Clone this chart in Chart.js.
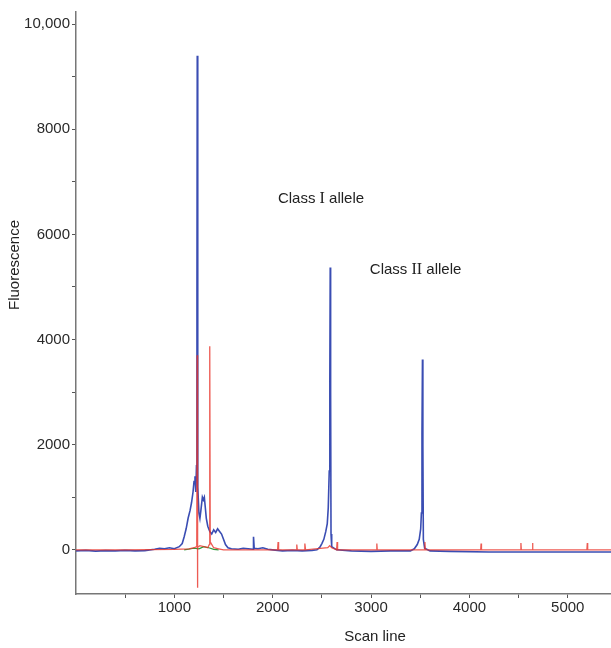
<!DOCTYPE html>
<html lang="en">
<head>
    <meta charset="UTF-8">
    <title>Scan line fluorescence</title>
    <script src="https://cdn.jsdelivr.net/npm/chart.js"></script>
    <style>
        body { margin: 0; background: #fff; }
        #chart { display: block; }
    </style>
</head>
<body>
    <canvas id="chart" width="611" height="648"></canvas>
    <script>
        // blue trace (scan line, fluorescence)
        const blueScan = [0, 100, 200, 300, 400, 500, 600, 700, 800, 850, 900, 950, 1000, 1050, 1080, 1100, 1120, 1140, 1160, 1175, 1190, 1200, 1210, 1218, 1225, 1230, 1233, 1236, 1240, 1250, 1260, 1270, 1285, 1295, 1305, 1315, 1325, 1340, 1360, 1380, 1400, 1420, 1440, 1460, 1480, 1500, 1520, 1545, 1580, 1650, 1700, 1750, 1800, 1805, 1812, 1850, 1900, 1950, 2000, 2100, 2200, 2300, 2400, 2450, 2480, 2500, 2520, 2540, 2555, 2565, 2575, 2581, 2585, 2589, 2593, 2600, 2650, 2800, 3000, 3200, 3400, 3440, 3470, 3490, 3505, 3512, 3518, 3523, 3527, 3532, 3545, 3600, 3800, 4200, 4600, 5000, 5440];
        const blueFluor = [-20, -10, -25, -15, -20, -10, -20, -15, 10, 30, 20, 40, 20, 60, 120, 250, 400, 600, 750, 900, 1100, 1300, 1400, 1100, 1600, 4900, 9400, 4000, 1200, 700, 600, 750, 1000, 950, 1000, 800, 600, 450, 350, 300, 380, 330, 400, 350, 300, 200, 100, 40, 20, 10, 30, 20, 10, 250, 30, 20, 40, 10, 0, -20, -10, -20, -10, 0, 50, 120, 200, 350, 500, 800, 1500, 3200, 5370, 3000, 300, 60, 0, -20, -30, -20, -20, 20, 100, 200, 400, 700, 2200, 3620, 2000, 200, 30, -20, -30, -40, -40, -40, -40];

        // red trace
        const redScan = [0, 500, 1000, 1150, 1200, 1228, 1232, 1235, 1238, 1260, 1300, 1340, 1355, 1360, 1365, 1400, 1450, 1500, 2050, 2055, 2060, 2240, 2245, 2250, 2320, 2327, 2334, 2560, 2580, 2600, 2650, 2655, 2660, 3055, 3059, 3063, 3545, 3548, 3552, 4115, 4119, 4123, 4520, 4524, 4528, 4638, 4642, 4646, 5195, 5199, 5203, 5440];
        const redFluor = [0, 0, 10, 20, 40, 60, 3700, -720, 50, 80, 60, 40, 100, 3870, 150, 40, 20, 0, 0, 150, 0, 0, 100, 0, 0, 120, 0, 40, 80, 40, 0, 150, 0, 0, 120, 0, 0, 150, 0, 0, 120, 0, 0, 130, 0, 0, 130, 0, 0, 130, 0, 0];

        // green trace
        const greenScan = [1100, 1200, 1250, 1300, 1350, 1400, 1450];
        const greenFluor = [0, 30, 20, 60, 40, 10, 0];

        // annotations: [before, roman numeral, after]
        const noteParts = [['Class ', 'I', ' allele'], ['Class ', 'II', ' allele']];
        const noteScan = [2053, 2988];
        const noteFluor = [6670, 5320];

        // tick marks and their labels ('' = minor tick)
        const xTickValues = [500, 1000, 1500, 2000, 2500, 3000, 3500, 4000, 4500, 5000];
        const xTickText = ['', '1000', '', '2000', '', '3000', '', '4000', '', '5000'];
        const yTickValues = [0, 1000, 2000, 3000, 4000, 5000, 6000, 7000, 8000, 9000, 10000];
        const yTickText = ['0', '', '2000', '', '4000', '', '6000', '', '8000', '', '10,000'];

        const toPoints = (xs, ys) => xs.map((x, i) => ({ x: x, y: ys[i] }));

        const FONT = 'Liberation Sans, Arial, sans-serif';
        const SERIF = 'Liberation Serif, Times New Roman, serif';

        const textPlugin = {
            id: 'textPlugin',
            afterDraw(chart) {
                const ctx = chart.ctx;
                const xs = chart.scales.x;
                const ys = chart.scales.y;
                ctx.save();
                ctx.fillStyle = '#222';
                ctx.textBaseline = 'middle';
                ctx.textAlign = 'left';
                noteParts.forEach((parts, i) => {
                    let x = xs.getPixelForValue(noteScan[i]);
                    const y = ys.getPixelForValue(noteFluor[i]);
                    parts.forEach((p, j) => {
                        ctx.font = j === 1 ? '16px ' + SERIF : '15px ' + FONT;
                        ctx.fillText(p, x, y);
                        x += ctx.measureText(p).width;
                    });
                });
                // axis titles
                ctx.font = '15px ' + FONT;
                ctx.textAlign = 'center';
                ctx.fillText('Scan line', 375, 637);
                ctx.translate(15, 265);
                ctx.rotate(-Math.PI / 2);
                ctx.fillText('Fluorescence', 0, 0);
                ctx.restore();
            }
        };

        new Chart(document.getElementById('chart'), {
            type: 'line',
            data: {
                datasets: [{
                    data: toPoints(redScan, redFluor),
                    borderColor: 'rgba(232, 50, 40, 0.8)',
                    borderWidth: 1.3
                }, {
                    data: toPoints(greenScan, greenFluor),
                    borderColor: '#2e9a3c',
                    borderWidth: 1.2
                }, {
                    data: toPoints(blueScan, blueFluor),
                    borderColor: '#3a4db3',
                    borderWidth: 1.6
                }]
            },
            options: {
                responsive: false,
                animation: false,
                devicePixelRatio: 1,
                layout: { padding: { top: 12, right: 0, left: 0, bottom: 0 } },
                elements: { point: { radius: 0 }, line: { tension: 0 } },
                plugins: { legend: { display: false }, tooltip: { enabled: false } },
                scales: {
                    x: {
                        type: 'linear',
                        min: 0,
                        max: 5440,
                        afterFit: s => { s.height = 54; },
                        afterBuildTicks: s => { s.ticks = xTickValues.map(v => ({ value: v })); },
                        ticks: {
                            autoSkip: false,
                            maxRotation: 0,
                            padding: 1,
                            color: '#2a2a2a',
                            font: { family: FONT, size: 15 },
                            callback: (v, i) => xTickText[i]
                        },
                        grid: { drawOnChartArea: false, tickLength: 4, tickColor: '#555' },
                        border: { color: '#777', width: 1.5 }
                    },
                    y: {
                        min: -840,
                        max: 10230,
                        afterFit: s => { s.width = 76; },
                        afterBuildTicks: s => { s.ticks = yTickValues.map(v => ({ value: v })); },
                        ticks: {
                            autoSkip: false,
                            padding: 2,
                            color: '#2a2a2a',
                            font: { family: FONT, size: 15 },
                            callback: (v, i) => yTickText[i]
                        },
                        grid: { drawOnChartArea: false, tickLength: 4, tickColor: '#555' },
                        border: { color: '#777', width: 1.5 }
                    }
                }
            },
            plugins: [textPlugin]
        });
    </script>
</body>
</html>
